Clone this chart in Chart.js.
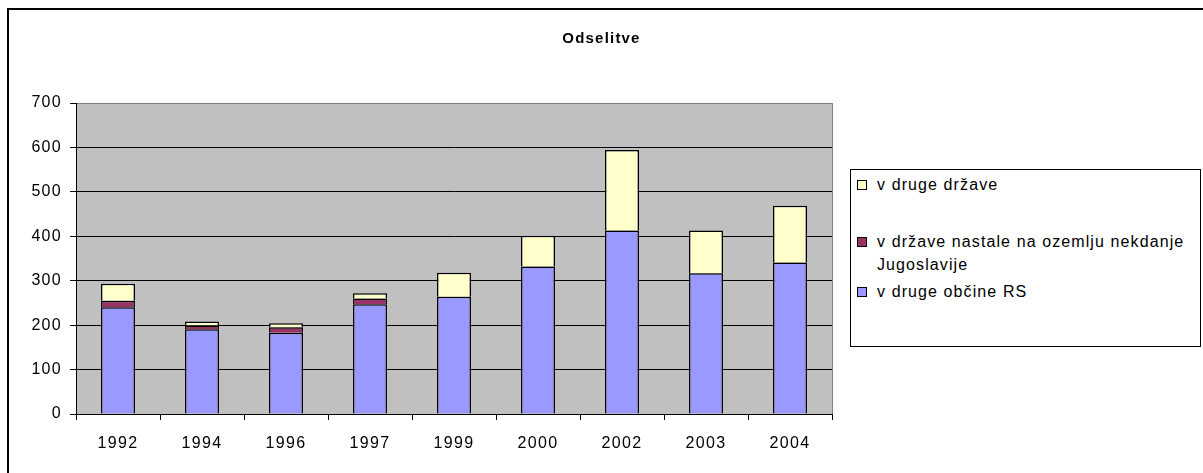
<!DOCTYPE html>
<html>
<head>
<meta charset="utf-8">
<script src="https://cdn.jsdelivr.net/npm/chart.js@4.4.0/dist/chart.umd.min.js"></script>
<style>
  body { margin: 0; background: #fff; font-family: "Liberation Sans", Arial, sans-serif; }
  #wrap { position: relative; width: 1203px; height: 473px; overflow: hidden; }
  #frame { position: absolute; left: 7px; top: 8px; width: 1300px; height: 600px; border: 2px solid #000; }
  #chart1 { position: absolute; left: 0; top: 0; }
  #title { position: absolute; left: 0; top: 29px; width: 1203px; text-align: center; font-size: 15px; font-weight: bold; letter-spacing: 1.2px; color: #000; }
  #legend { position: absolute; left: 850px; top: 169px; width: 349px; height: 176px; border: 1px solid #000; background: #fff; font-size: 16px; letter-spacing: 1.1px; color: #000; overflow: hidden; }
  .item { position: absolute; left: 26px; line-height: 23px; white-space: nowrap; }
  .key { position: absolute; left: -20px; top: 7px; width: 8px; height: 8px; border: 1px solid #000; }
</style>
</head>
<body>
<div id="wrap">
  <div id="frame"></div>
  <canvas id="chart1" width="1203" height="473"></canvas>
  <div id="title">Odselitve</div>
  <div id="legend"></div>
</div>
<script>
// Odselitve - podatki odčitani z grafa
const years = ['1992', '1994', '1996', '1997', '1999', '2000', '2002', '2003', '2004'];
const vDrugeObcine = [240, 191, 183, 247, 264, 332, 413, 317, 341];
const vDrzaveJugoslavije = [15, 8, 12, 13, 0, 0, 0, 0, 0];
const vDrugeDrzave = [38, 9, 9, 12, 54, 69, 181, 96, 128];
const yTicks = [0, 100, 200, 300, 400, 500, 600, 700];

const seriesNames = ['v druge občine RS', 'v države nastale na ozemlju nekdanje Jugoslavije', 'v druge države'];
const seriesColors = ['#9999FF', '#993366', '#FFFFCC'];

document.addEventListener("DOMContentLoaded", function() {

    // siva podlaga risalnega območja + razmik črk kot v Excelu
    const plotBg = {
        id: 'plotBg',
        beforeInit(chart) {
            chart.ctx.letterSpacing = '1.3px';
        },
        beforeDraw(chart) {
            const a = chart.chartArea;
            const c = chart.ctx;
            c.letterSpacing = '1.3px';
            c.save();
            c.fillStyle = '#C0C0C0';
            c.fillRect(a.left, a.top, a.right - a.left, a.bottom - a.top);
            c.strokeStyle = '#808080';
            c.lineWidth = 1;
            c.strokeRect(a.left + 0.5, a.top + 0.5, a.right - a.left, a.bottom - a.top);
            c.restore();
        }
    };

    const ctx1 = document.getElementById('chart1').getContext('2d');
    new Chart(ctx1, {
        type: 'bar',
        data: {
            labels: years,
            datasets: [vDrugeObcine, vDrzaveJugoslavije, vDrugeDrzave].map(function(d, i) {
                return {
                    label: seriesNames[i],
                    data: d,
                    backgroundColor: seriesColors[i],
                    borderColor: '#000',
                    borderWidth: 1.5,
                    barPercentage: 0.405,
                    categoryPercentage: 1
                };
            })
        },
        options: {
            responsive: false,
            animation: false,
            layout: { padding: { left: 0, right: 371, top: 103, bottom: 0 } },
            plugins: {
                legend: { display: false },
                tooltip: { enabled: false },
                title: { display: false }
            },
            scales: {
                x: {
                    stacked: true,
                    grid: { offset: true, drawOnChartArea: false, drawTicks: true, tickLength: 6, tickColor: '#000' },
                    border: { color: '#000', width: 1 },
                    ticks: { color: '#000', font: { family: 'Liberation Sans', size: 16 }, padding: 14 },
                    afterFit: function(s) { s.height = 59; }
                },
                y: {
                    stacked: true,
                    min: 0,
                    max: 700,
                    afterBuildTicks: function(s) { s.ticks = yTicks.map(function(v) { return { value: v }; }); },
                    grid: {
                        color: function(c) { return c.tick && c.tick.value === 700 ? '#808080' : '#000'; },
                        tickLength: 6,
                        tickColor: '#000'
                    },
                    border: { color: '#000', width: 1 },
                    ticks: { color: '#000', font: { family: 'Liberation Sans', size: 16 }, padding: 8 },
                    afterFit: function(s) { s.width = 76; }
                }
            }
        },
        plugins: [plotBg]
    });

    // legenda (obrnjen vrstni red kot v Excelu)
    const legend = document.getElementById('legend');
    const tops = [3, 60, 110];
    [2, 1, 0].forEach(function(i, k) {
        const el = document.createElement('div');
        el.className = 'item';
        el.style.top = tops[k] + 'px';
        el.innerHTML = '<span class="key" style="background:' + seriesColors[i] + '"></span>' +
            seriesNames[i].replace(' Jugoslavije', '<br>Jugoslavije');
        legend.appendChild(el);
    });
});
</script>
</body>
</html>
